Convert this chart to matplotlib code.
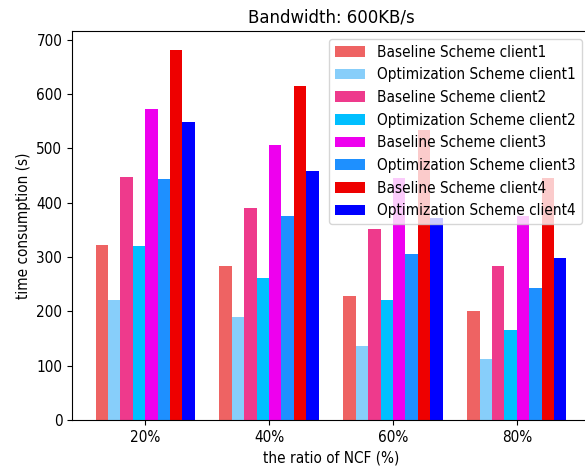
import matplotlib
matplotlib.use("Agg")
import matplotlib.pyplot as plt
import numpy as np

plt.rcParams["font.size"] = 11
plt.rcParams["font.family"] = "DejaVu Sans"
plt.rcParams["font.stretch"] = "condensed"

ratios = ["20%", "40%", "60%", "80%"]
series_labels = [
    "Baseline Scheme client1",
    "Optimization Scheme client1",
    "Baseline Scheme client2",
    "Optimization Scheme client2",
    "Baseline Scheme client3",
    "Optimization Scheme client3",
    "Baseline Scheme client4",
    "Optimization Scheme client4",
]
baseline_client1 = [322, 283, 229, 200]
optimization_client1 = [220, 189, 136, 112]
baseline_client2 = [448, 391, 351, 283]
optimization_client2 = [320, 262, 221, 165]
baseline_client3 = [572, 506, 446, 375]
optimization_client3 = [444, 375, 305, 243]
baseline_client4 = [682, 614, 533, 445]
optimization_client4 = [549, 459, 372, 299]

series_values = [
    baseline_client1, optimization_client1,
    baseline_client2, optimization_client2,
    baseline_client3, optimization_client3,
    baseline_client4, optimization_client4,
]
colors = ["#EE6363", "#87CEFA", "#EE3A8C", "#00BFFF",
          "#EE00EE", "#1E90FF", "#EE0000", "#0000FF"]

fig = plt.figure(figsize=(5.85, 4.72), dpi=100)
ax = fig.add_axes([72 / 585, 52 / 472, 518 / 585, 389 / 472])

x = np.arange(len(ratios))
width = 0.1
n = len(series_values)
for i, (vals, lab, col) in enumerate(zip(series_values, series_labels, colors)):
    offset = (i - (n - 1) / 2) * width
    ax.bar(x + offset, vals, width, label=lab, color=col)

ax.set_xticks(x)
ax.set_xticklabels(ratios)
ax.set_xlabel("the ratio of NCF (%)")
ax.set_ylabel("time consumption (s)")
ax.set_title("Bandwidth: 600KB/s")
ax.legend(loc="upper right")

fig.savefig("out.png", dpi=100)
